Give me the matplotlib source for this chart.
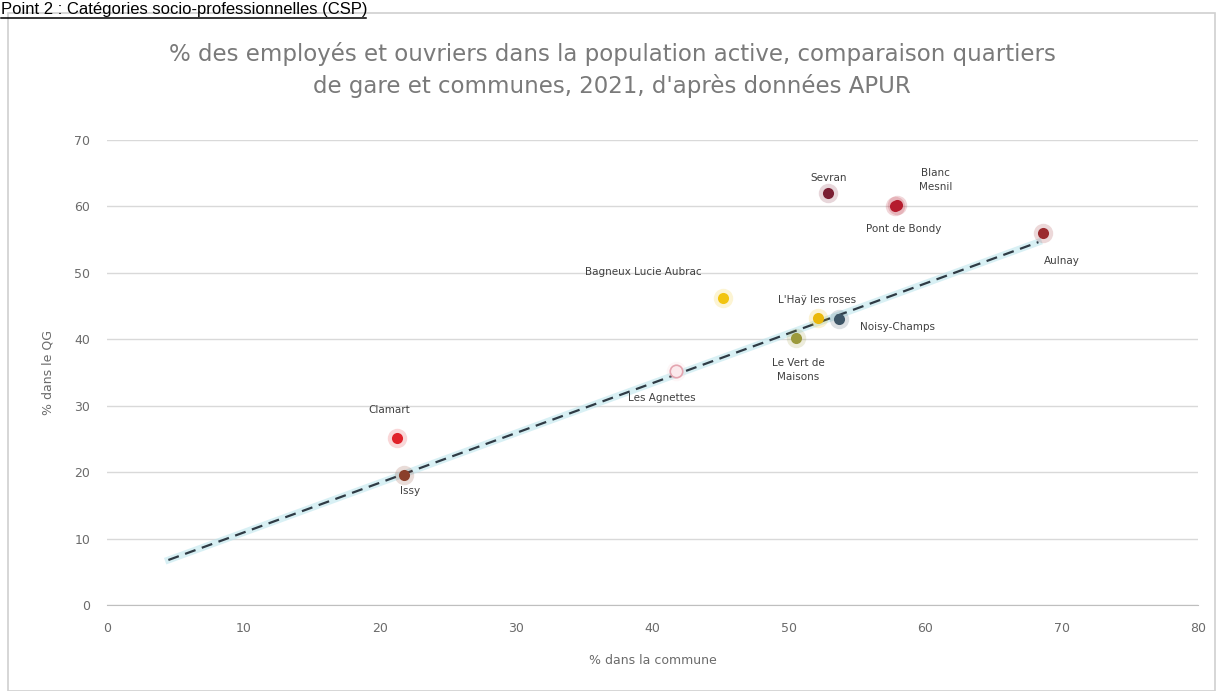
import numpy as np
import matplotlib
matplotlib.use('Agg')
import matplotlib.pyplot as plt
from matplotlib.patches import Rectangle

# quartiers de gare : % employés et ouvriers (commune, quartier de gare)
names = ['Sevran', 'Blanc\nMesnil', 'Pont de Bondy', 'Aulnay', 'Bagneux Lucie Aubrac',
         "L'Haÿ les roses", 'Noisy-Champs', 'Le Vert de\nMaisons', 'Les Agnettes',
         'Clamart', 'Issy']
x_commune = [52.9, 57.9, 57.8, 68.6, 45.2, 52.1, 53.7, 50.5, 41.7, 21.3, 21.8]
y_qg = [62.0, 60.2, 60.1, 56.0, 46.2, 43.2, 43.1, 40.2, 35.2, 25.2, 19.5]
colors = ['#7a1f33', '#b51c2e', '#b51c2e', '#9b2a2e', '#f2c40f', '#eab80c',
          '#3d5566', '#9c9a3c', '#f4d0d6', '#e0222a', '#8a3f2a']
# label offsets in points
offsets = [(0, 11), (28, 18), (6, -17), (14, -20), (-58, 19),
           (0, 13), (42, -6), (2, -23), (-10, -19), (-6, 20), (4, -11)]

# trend line
trend_x = [4.5, 68.3]
slope, intercept = 0.75, 3.4

title = ("% des employés et ouvriers dans la population active, comparaison quartiers\n"
         "de gare et communes, 2021, d'après données APUR")

fig = plt.figure(figsize=(12.21, 6.91), dpi=100)
W, H = 1221, 691

# chart frame
fig.patches.append(Rectangle((8 / W, 0), 1207 / W, 1 - 13 / H, transform=fig.transFigure,
                             fill=False, edgecolor='#d0d0d0', lw=1.2))

fig.text(1 / W, 1 - 14 / H, 'Point 2 : Catégories socio-professionnelles (CSP)',
         fontsize=12, family='Liberation Sans', color='black', va='baseline')
fig.add_artist(plt.Line2D([1 / W, 366 / W], [1 - 18 / H, 1 - 18 / H], color='black',
                          lw=1.1, transform=fig.transFigure))

fig.text(612 / W, 1 - 70 / H, title, ha='center', va='center', fontsize=16.5,
         color='#7a7a7a', linespacing=1.45)

ax = fig.add_axes([107 / W, 1 - 605 / H, (1198 - 107) / W, (605 - 140) / H])
ax.set_xlim(0, 80)
ax.set_ylim(0, 70)
ax.set_xticks(np.arange(0, 81, 10))
ax.set_yticks(np.arange(0, 71, 10))
ax.grid(axis='y', color='#d9d9d9', lw=1)
ax.set_axisbelow(True)
for s in ['top', 'right', 'left']:
    ax.spines[s].set_visible(False)
ax.spines['bottom'].set_color('#bfbfbf')
ax.tick_params(length=0, labelsize=9, labelcolor='#6b6b6b', pad=12)
ax.set_xlabel('% dans la commune', fontsize=9, color='#6b6b6b', labelpad=14)
ax.set_ylabel('% dans le QG', fontsize=9, color='#6b6b6b', labelpad=14)

tx = np.array(trend_x)
ax.plot(tx, slope * tx + intercept, color='#bfe6ee', lw=5, alpha=0.6, zorder=2)
ax.plot(tx, slope * tx + intercept, color='#2f3b45', lw=1.6, ls=(0, (5, 3)), zorder=3)

for n, xv, yv, c, off in zip(names, x_commune, y_qg, colors, offsets):
    ax.plot(xv, yv, 'o', ms=14, color=c, alpha=0.18, mec='none', zorder=4)
    if n == 'Les Agnettes':
        ax.plot(xv, yv, 'o', ms=9, mfc='#fbe9ec', mec='#e4a5b0', mew=1.2, zorder=5)
    else:
        ax.plot(xv, yv, 'o', ms=8, color=c, mec='none', zorder=5)
    ax.annotate(n, (xv, yv), xytext=off, textcoords='offset points', ha='center',
                va='center', fontsize=7.5, color='#404040', linespacing=1.5, zorder=6)

plt.savefig('out.png', dpi=100)
